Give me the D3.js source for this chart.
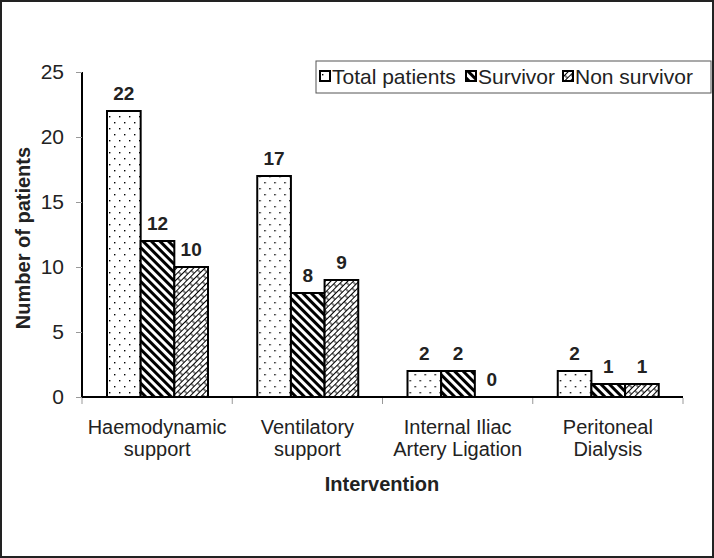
<!DOCTYPE html>
<html>
<head>
<meta charset="utf-8">
<script src="https://cdn.jsdelivr.net/npm/d3@7"></script>
<style>
  body { margin: 0; background: #fff; }
  svg { display: block; font-family: "Liberation Sans", Arial, sans-serif; }
</style>
</head>
<body>
<div id="chart"></div>
<script>
// data
const categories = [["Haemodynamic", "support"], ["Ventilatory", "support"], ["Internal Iliac", "Artery Ligation"], ["Peritoneal", "Dialysis"]];
const seriesNames = ["Total patients", "Survivor", "Non survivor"];
const totalPatients = [22, 17, 2, 2];
const survivors = [12, 8, 2, 1];
const nonSurvivors = [10, 9, 0, 1];
const yTicks = [0, 5, 10, 15, 20, 25];

const seriesValues = [totalPatients, survivors, nonSurvivors];
const patternIds = ["pat-dots", "pat-hatch", "pat-brick"];

var width = 714, height = 558;
var plotLeft = 82, plotRight = 683, plotTop = 72, plotBottom = 397;

var svg = d3.select("#chart").append("svg")
  .attr("width", width).attr("height", height);

var defs = svg.append("defs");

// dotted fill
var p1 = defs.append("pattern").attr("id", "pat-dots")
  .attr("patternUnits", "userSpaceOnUse").attr("width", 10).attr("height", 12);
p1.append("rect").attr("width", 10).attr("height", 12).attr("fill", "#fff");
p1.append("rect").attr("x", 2).attr("y", 2).attr("width", 1.4).attr("height", 1.4).attr("fill", "#000");
p1.append("rect").attr("x", 7).attr("y", 8).attr("width", 1.4).attr("height", 1.4).attr("fill", "#000");

// thick diagonal hatch  "\"
var p2 = defs.append("pattern").attr("id", "pat-hatch")
  .attr("patternUnits", "userSpaceOnUse").attr("width", 6).attr("height", 6)
  .attr("patternTransform", "rotate(45)");
p2.append("rect").attr("width", 6).attr("height", 6).attr("fill", "#fff");
p2.append("line").attr("x1", -1).attr("x2", 7).attr("y1", 1.5).attr("y2", 1.5)
  .attr("stroke", "#000").attr("stroke-width", 3);

// brick-like diagonal  "/"
var p3 = defs.append("pattern").attr("id", "pat-brick")
  .attr("patternUnits", "userSpaceOnUse").attr("width", 10).attr("height", 8)
  .attr("patternTransform", "rotate(-45)");
p3.append("rect").attr("width", 10).attr("height", 8).attr("fill", "#fff");
p3.append("path")
  .attr("d", "M0,0.5H10M0,4.5H10M1,0.5V4.5M6,4.5V8.5")
  .attr("stroke", "#000").attr("stroke-width", 1).attr("fill", "none");

// outer frame
svg.append("rect").attr("x", 1).attr("y", 1).attr("width", width - 2).attr("height", height - 2)
  .attr("fill", "none").attr("stroke", "#222").attr("stroke-width", 2);

var x0 = d3.scaleBand().domain(d3.range(categories.length)).range([plotLeft, plotRight]);
var x1 = d3.scaleBand().domain(d3.range(seriesNames.length)).range([25, 126]);
var y = d3.scaleLinear().domain([0, 25]).range([plotBottom, plotTop]);

// y axis
var yAxis = svg.append("g").attr("transform", "translate(" + plotLeft + ",0)")
  .call(d3.axisLeft(y).tickValues(yTicks).tickSize(6).tickPadding(12));
yAxis.select(".domain").attr("stroke", "#000").attr("stroke-width", 2).attr("d", "M0," + plotTop + "V" + plotBottom);
yAxis.selectAll(".tick line").attr("stroke", "#999");
yAxis.selectAll("text").style("font-size", "21px").attr("fill", "#222");

// x axis: ticks between categories
var xAxisG = svg.append("g").attr("transform", "translate(0," + plotBottom + ")");
xAxisG.append("line").attr("x1", plotLeft).attr("x2", plotRight).attr("stroke", "#000").attr("stroke-width", 2);
xAxisG.selectAll("line.tk").data(d3.range(categories.length + 1)).enter()
  .append("line").attr("class", "tk")
  .attr("x1", d => d < categories.length ? x0(d) : plotRight)
  .attr("x2", d => d < categories.length ? x0(d) : plotRight)
  .attr("y1", 1).attr("y2", 7).attr("stroke", "#999");

// category labels
svg.selectAll("text.cat").data(categories).enter()
  .append("text").attr("class", "cat")
  .attr("text-anchor", "middle")
  .attr("y", 434)
  .style("font-size", "20px").attr("fill", "#222")
  .each(function(d, i) {
    var t = d3.select(this);
    d.forEach(function(line, j) {
      t.append("tspan").attr("x", x0(i) + x0.bandwidth() / 2).attr("dy", j === 0 ? 0 : 22).text(line);
    });
  });

// bars
var groups = svg.selectAll("g.grp").data(categories).enter()
  .append("g").attr("class", "grp")
  .attr("transform", (d, i) => "translate(" + x0(i) + ",0)");

groups.each(function(d, i) {
  var g = d3.select(this);
  seriesValues.forEach(function(vals, s) {
    var v = vals[i];
    if (v > 0) {
      g.append("rect")
        .attr("x", x1(s)).attr("width", x1.bandwidth())
        .attr("y", y(v)).attr("height", y(0) - y(v))
        .attr("fill", "url(#" + patternIds[s] + ")")
        .attr("stroke", "#000").attr("stroke-width", 2);
    }
    g.append("text")
      .attr("x", x1(s) + x1.bandwidth() / 2)
      .attr("y", y(v) - 11)
      .attr("text-anchor", "middle")
      .style("font-size", "19px").style("font-weight", "bold").attr("fill", "#222")
      .text(v);
  });
});

// axis titles
svg.append("text").attr("x", 382).attr("y", 491).attr("text-anchor", "middle")
  .style("font-size", "20px").style("font-weight", "bold").attr("fill", "#222")
  .text("Intervention");
svg.append("text").attr("transform", "translate(30,238) rotate(-90)").attr("text-anchor", "middle")
  .style("font-size", "20px").style("font-weight", "bold").attr("fill", "#222")
  .text("Number of patients");

// legend
var legend = svg.append("g");
legend.append("rect").attr("x", 316).attr("y", 61).attr("width", 395).attr("height", 32)
  .attr("fill", "#fff").attr("stroke", "#555").attr("stroke-width", 1);
var legX = [320, 466, 563];
seriesNames.forEach(function(name, s) {
  legend.append("rect").attr("x", legX[s]).attr("y", 71).attr("width", 10).attr("height", 10)
    .attr("fill", "url(#" + patternIds[s] + ")").attr("stroke", "#000").attr("stroke-width", 2);
  legend.append("text").attr("x", legX[s] + 12).attr("y", 84)
    .style("font-size", "21px").attr("fill", "#222").text(name);
});
</script>
</body>
</html>
